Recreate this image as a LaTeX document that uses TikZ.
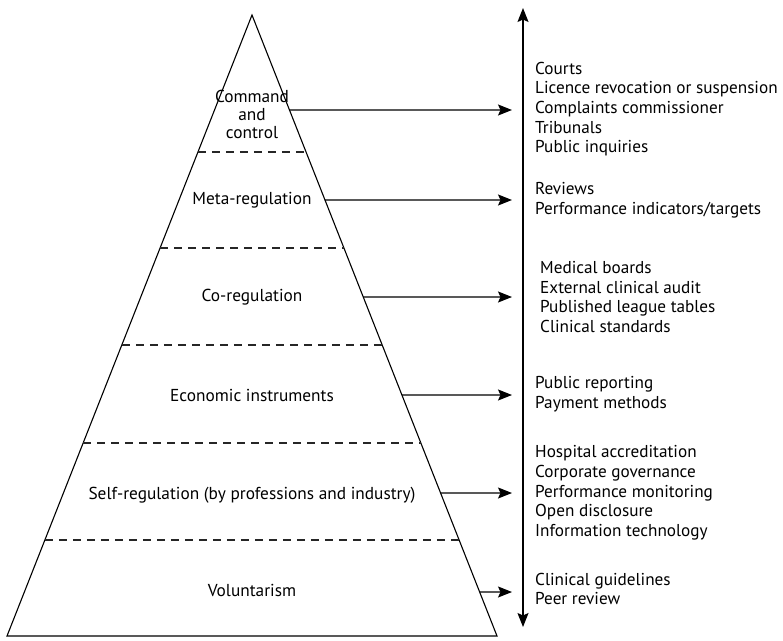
\documentclass[tikz,border=0pt]{standalone}
\usepackage{fontspec}
\setmainfont{PT Sans}
\usetikzlibrary{calc,arrows.meta}

\tikzset{
  edge/.style={line width=1.1pt, black},
  level/.style={line width=1.1pt, dash pattern=on 8pt off 6pt, black!85},
  tier/.style={align=center, inner sep=0pt, font=\fontsize{17.3}{18}\selectfont},
  outcome/.style={align=left, anchor=west, inner sep=0pt, font=\fontsize{17.2}{19.7}\selectfont},
  link/.style={line width=1.2pt, -{Stealth[length=14pt,width=11pt,inset=2.5pt]}},
  axisline/.style={line width=1.2pt, {Stealth[length=14pt,width=11pt,inset=2.5pt]}-{Stealth[length=14pt,width=11pt,inset=2.5pt]}}
}

\begin{document}
\begin{tikzpicture}[x=1pt, y=-1pt]
  \useasboundingbox (0,0) rectangle (783,640);

  % pyramid outline
  \coordinate (A)  at (252,15);
  \coordinate (BL) at (7,636);
  \coordinate (BR) at (497,636);
  \draw[edge, line join=miter] (A) -- (BL) -- (BR) -- cycle;

  % dashed boundaries between the tiers
  \foreach \yy in {152,248,345,443,540} {
    \pgfmathsetmacro\ff{(\yy-15)/621}
    \draw[level] ($(A)!\ff!(BL)$) -- ($(A)!\ff!(BR)$);
  }

  % tier labels
  \node[tier] (t1) at (252,114) {Command\\and\\control};
  \node[tier] (t2) at (252,200) {Meta-regulation};
  \node[tier] (t3) at (252,297) {Co-regulation};
  \node[tier] (t4) at (252,395) {Economic instruments};
  \node[tier] (t5) at (252,495) {Self-regulation (by professions and industry)};
  \node[tier] (t6) at (252,590) {Voluntarism};

  % vertical scale
  \coordinate (top) at (523,8);
  \coordinate (bot) at (523,627);
  \draw[axisline] (bot) -- (top);

  % mechanisms for each tier
  \node[outcome] (m1) at (535,109) {Courts\\Licence revocation or suspension\\Complaints commissioner\\Tribunals\\Public inquiries};
  \node[outcome] (m2) at (535,200) {Reviews\\Performance indicators/targets};
  \node[outcome] (m3) at (540,297) {Medical boards\\External clinical audit\\Published league tables\\Clinical standards};
  \node[outcome] (m4) at (535,394) {Public reporting\\Payment methods};
  \node[outcome] (m5) at (535,493) {Hospital accreditation\\Corporate governance\\Performance monitoring\\Open disclosure\\Information technology};
  \node[outcome] (m6) at (535,589) {Clinical guidelines\\Peer review};

  % arrows from the pyramid edge towards the scale
  \foreach \yy/\nn in {110/1,200/2,297/3,395/4,493/5,592/6} {
    \pgfmathsetmacro\ff{(\yy-15)/621}
    \coordinate (s\nn) at ($(A)!\ff!(BR)$);
    \coordinate (e\nn) at (512,\yy);
    \draw[link] (s\nn) -- (e\nn);
  }
\end{tikzpicture}
\end{document}
